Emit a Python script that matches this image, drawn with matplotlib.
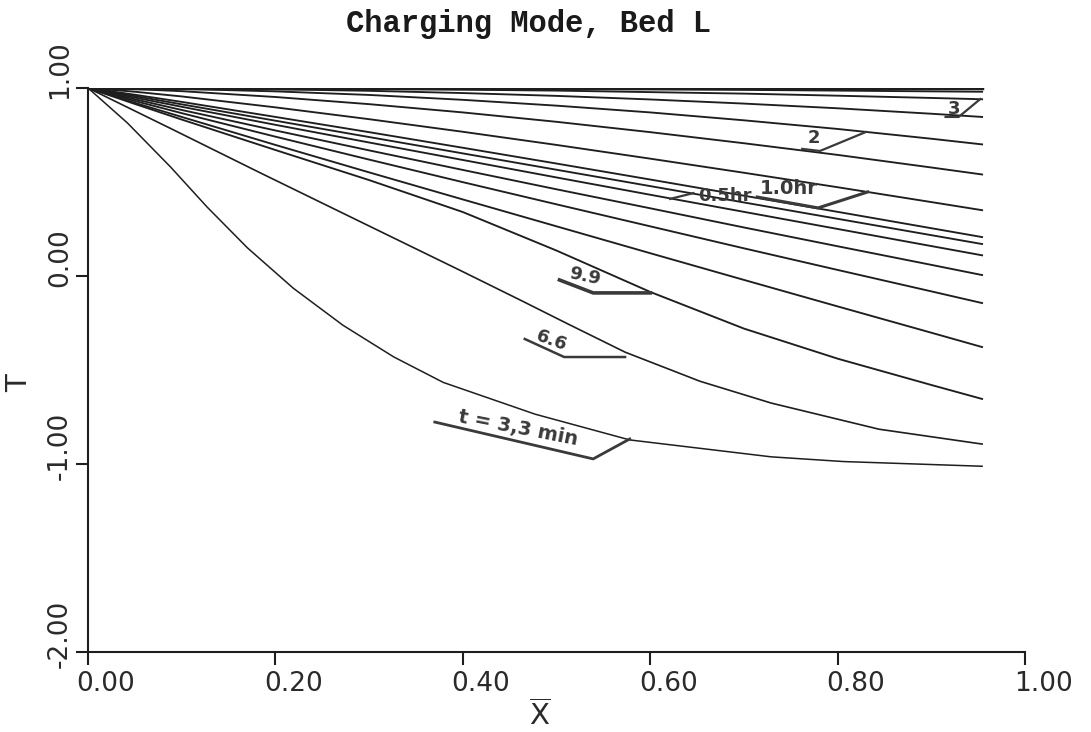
import matplotlib
matplotlib.use("Agg")
import matplotlib.pyplot as plt
from matplotlib.transforms import ScaledTranslation

# Dimensionless bed position at which the later profiles are tabulated
x_pos = [0.0, 0.05, 0.1, 0.2, 0.3, 0.4, 0.5, 0.6, 0.7, 0.8, 0.9, 0.954]

# Early profiles, tabulated at their own positions
x_3_3min = [0.0, 0.042, 0.088, 0.127, 0.170, 0.219, 0.272, 0.326, 0.379, 0.477,
            0.578, 0.672, 0.729, 0.806, 0.954]
t_3_3min = [1.0, 0.814, 0.580, 0.367, 0.150, -0.065, -0.262, -0.430, -0.566, -0.735,
            -0.872, -0.928, -0.962, -0.987, -1.012]
x_6_6min = [0.0, 0.09, 0.184, 0.290, 0.397, 0.462, 0.512, 0.573, 0.653, 0.729, 0.844, 0.954]
t_6_6min = [1.0, 0.78, 0.548, 0.290, 0.030, -0.130, -0.255, -0.405, -0.560, -0.676,
            -0.815, -0.894]

# Later profiles
t_9_9min = [1.0, 0.915, 0.832, 0.67, 0.51, 0.34, 0.135, -0.085, -0.28, -0.44, -0.58, -0.654]
t_13_2min = [1.0, 0.921, 0.846, 0.697, 0.551, 0.407, 0.264, 0.121, -0.021, -0.162, -0.302, -0.378]
t_16_5min = [1.0, 0.931, 0.866, 0.741, 0.619, 0.499, 0.381, 0.264, 0.147, 0.032, -0.082, -0.144]
t_19_8min = [1.0, 0.940, 0.883, 0.774, 0.668, 0.564, 0.461, 0.360, 0.258, 0.158, 0.059, 0.005]
t_0_5hr = [1.0, 0.949, 0.900, 0.804, 0.710, 0.617, 0.524, 0.432, 0.341, 0.250, 0.159, 0.11]
t_0_6hr = [1.0, 0.957, 0.913, 0.826, 0.739, 0.652, 0.565, 0.478, 0.391, 0.304, 0.217, 0.17]
t_0_8hr = [1.0, 0.964, 0.926, 0.846, 0.765, 0.682, 0.598, 0.513, 0.427, 0.341, 0.254, 0.207]
t_1_0hr = [1.0, 0.980, 0.955, 0.897, 0.834, 0.767, 0.697, 0.624, 0.549, 0.472, 0.393, 0.35]
t_1_5hr = [1.0, 0.994, 0.983, 0.952, 0.914, 0.870, 0.820, 0.765, 0.706, 0.644, 0.577, 0.54]
t_2_0hr = [1.0, 0.9985, 0.995, 0.982, 0.963, 0.937, 0.906, 0.870, 0.828, 0.782, 0.730, 0.70]
t_2_5hr = [1.0, 1.0, 0.998, 0.993, 0.985, 0.973, 0.958, 0.939, 0.917, 0.892, 0.863, 0.846]
t_3_0hr = [1.0, 1.0, 1.0, 0.998, 0.995, 0.991, 0.986, 0.978, 0.970, 0.959, 0.947, 0.94]
t_3_5hr = [1.0, 1.0, 1.0, 0.999, 0.998, 0.997, 0.995, 0.993, 0.990, 0.986, 0.982, 0.98]
t_4_0hr = [1.0, 1.0, 1.0, 1.0, 1.0, 0.999, 0.999, 0.998, 0.997, 0.997, 0.996, 0.995]
t_4_5hr = [1.0, 1.0, 1.0, 1.0, 1.0, 1.0, 1.0, 1.0, 1.0, 1.0, 1.0, 1.0]

later_profiles = [t_9_9min, t_13_2min, t_16_5min, t_19_8min, t_0_5hr, t_0_6hr,
                  t_0_8hr, t_1_0hr, t_1_5hr, t_2_0hr, t_2_5hr, t_3_0hr,
                  t_3_5hr, t_4_0hr]

x_ticks = [0.0, 0.2, 0.4, 0.6, 0.8, 1.0]
x_tick_labels = ["0.00", "0.20", "0.40", "0.60", "0.80", "1.00"]
y_ticks = [-2.0, -1.0, 0.0, 1.0]
y_tick_labels = ["-2.00", "-1.00", "0.00", "1.00"]

ink = "#1e1e1e"
label_ink = "#3a3a3a"

fig = plt.figure(figsize=(10.91, 7.32), dpi=100)
ax = fig.add_axes([0.0807, 0.1093, 0.859, 0.7705])

ax.plot(x_3_3min, t_3_3min, color=ink, lw=1.1)
ax.plot(x_6_6min, t_6_6min, color=ink, lw=1.2)
for prof in later_profiles:
    ax.plot(x_pos, prof, color=ink, lw=1.35)
# The fully charged profile sits on top of the nearly flat ones
ax.plot(x_pos, t_4_5hr, color=ink, lw=3.2)

ax.set_xlim(0, 1)
ax.set_ylim(-2, 1)
for side in ("top", "right"):
    ax.spines[side].set_visible(False)
for side in ("left", "bottom"):
    ax.spines[side].set_linewidth(1.5)
    ax.spines[side].set_color(ink)

ax.set_xticks(x_ticks)
ax.set_xticklabels(x_tick_labels)
ax.set_yticks(y_ticks)
ax.set_yticklabels(y_tick_labels)
ax.tick_params(axis="both", direction="out", length=9, width=1.5, color=ink,
               labelsize=19, labelcolor="#2a2a2a")
ax.tick_params(axis="x", pad=5)
ax.tick_params(axis="y", pad=2, labelrotation=90)

for lab in ax.get_xticklabels():
    lab.set_transform(lab.get_transform() + ScaledTranslation(0.18, 0, fig.dpi_scale_trans))
for lab in ax.get_yticklabels():
    lab.set_va("center")
    lab.set_transform(lab.get_transform() + ScaledTranslation(0, 0.18, fig.dpi_scale_trans))

ax.set_xlabel(r"$\overline{\mathrm{X}}$", fontsize=21, color="#2a2a2a")
ax.xaxis.set_label_coords(0.482, -0.113)
ax.xaxis.label.set_va("center")
ax.set_ylabel("T", fontsize=21, color="#2a2a2a", rotation=90)
ax.yaxis.set_label_coords(-0.074, 0.477)
ax.yaxis.label.set_va("center")

ax.set_title("Charging Mode, Bed L", family="Liberation Mono", fontweight="bold",
             fontsize=22, x=0.47, y=1.099, pad=0, color="#1a1a1a")

# Curve labels with their leader lines
lab_kw = dict(fontweight="bold", color=label_ink, ha="center", va="center")
ax.text(0.924, 0.888, "3", fontsize=13, **lab_kw)
ax.plot([0.915, 0.929, 0.952], [0.846, 0.846, 0.941], color=label_ink, lw=1.6)
ax.text(0.775, 0.734, "2", fontsize=13, **lab_kw)
ax.plot([0.762, 0.781, 0.830], [0.676, 0.665, 0.766], color=label_ink, lw=1.6)
ax.text(0.680, 0.426, "0.5hr", fontsize=13, **lab_kw)
ax.plot([0.621, 0.646], [0.410, 0.441], color=label_ink, lw=1.6)
ax.text(0.748, 0.466, "1.0hr", fontsize=14, **lab_kw)
ax.plot([0.714, 0.779, 0.832], [0.420, 0.362, 0.447], color=label_ink, lw=2.2)
ax.text(0.530, 0.0, "9.9", fontsize=13, rotation=-12, **lab_kw)
ax.plot([0.503, 0.539, 0.600], [-0.021, -0.090, -0.090], color=label_ink, lw=2.6)
ax.text(0.495, -0.346, "6.6", fontsize=13, rotation=-20, **lab_kw)
ax.plot([0.466, 0.508, 0.573], [-0.335, -0.431, -0.431], color=label_ink, lw=1.8)
ax.text(0.459, -0.809, "t = 3,3 min", fontsize=14, rotation=-11, **lab_kw)
ax.plot([0.370, 0.539, 0.578], [-0.777, -0.973, -0.867], color=label_ink, lw=2.0)

fig.savefig("out.png", dpi=100)
